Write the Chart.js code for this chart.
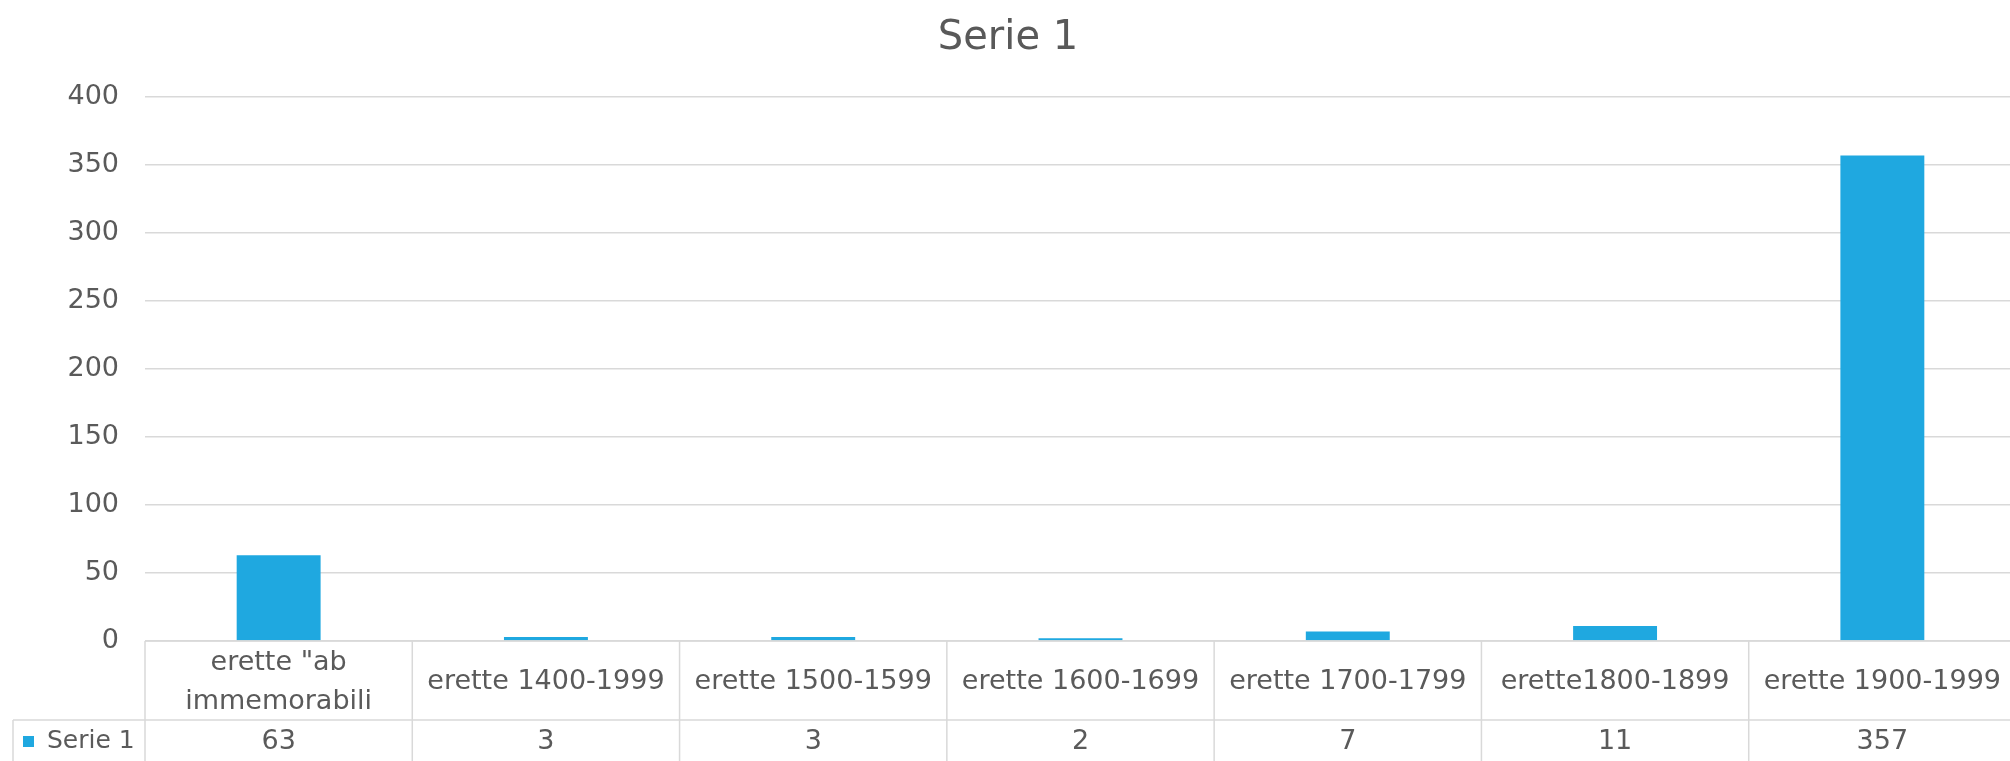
<!DOCTYPE html>
<html><head><meta charset="utf-8">
<script src="https://cdn.jsdelivr.net/npm/chart.js@4.4.1/dist/chart.umd.min.js"></script>
<style>
html,body{margin:0;padding:0;background:#fff;overflow:hidden;width:2010px;height:761px}
#wrap{position:absolute;left:0;top:0;width:2016px;height:761px}
</style></head>
<body><div id="wrap"><canvas id="c" width="2016" height="761"></canvas></div>
<script>
const chartTitle = 'Serie 1';
const seriesName = 'Serie 1';
const categories = [['erette "ab', 'immemorabili'], 'erette 1400-1999', 'erette 1500-1599', 'erette 1600-1699', 'erette 1700-1799', 'erette1800-1899', 'erette 1900-1999'];
const seriesValues = [63, 3, 3, 2, 7, 11, 357];
const yTicks = [0, 50, 100, 150, 200, 250, 300, 350, 400];

const FONT = 'DejaVu Sans, sans-serif';
const TEXT = '#5a5a5a';
const GRID = '#d9d9d9';
const BAR = '#1fa8e0';

const tablePlugin = {
  id: 'dataTable',
  afterDraw(chart) {
    const ctx = chart.ctx, xs = chart.scales.x;
    const n = categories.length;
    const top = xs.top, bottom = chart.height;
    const rowY = top + 79;
    const colW = (xs.right - xs.left) / n;
    const legendLeft = 13;
    ctx.save();
    ctx.strokeStyle = GRID;
    ctx.lineWidth = 1.5;
    ctx.beginPath();
    ctx.moveTo(xs.left, top); ctx.lineTo(xs.right, top);
    ctx.moveTo(legendLeft, rowY); ctx.lineTo(xs.right, rowY);
    for (let i = 0; i <= n; i++) {
      const bx = xs.getPixelForValue(0) - colW / 2 + i * colW;
      ctx.moveTo(bx, top); ctx.lineTo(bx, bottom);
    }
    ctx.moveTo(legendLeft, rowY); ctx.lineTo(legendLeft, bottom);
    ctx.stroke();
    // values row
    const vy = (rowY + bottom) / 2 + 1;
    ctx.fillStyle = TEXT;
    ctx.font = '27px ' + FONT;
    ctx.textAlign = 'center';
    ctx.textBaseline = 'middle';
    seriesValues.forEach((v, i) => {
      ctx.fillText(String(v), xs.getPixelForValue(i), vy);
    });
    // legend key
    ctx.fillStyle = BAR;
    ctx.fillRect(legendLeft + 10, vy - 5.5, 11, 11);
    ctx.fillStyle = TEXT;
    ctx.font = '25px ' + FONT;
    ctx.textAlign = 'left';
    ctx.fillText(seriesName, legendLeft + 34, vy);
    ctx.restore();
  }
};

new Chart(document.getElementById('c'), {
  type: 'bar',
  data: {
    labels: categories,
    datasets: [{
      label: seriesName,
      data: seriesValues,
      backgroundColor: BAR,
      borderWidth: 0,
      barPercentage: 0.314,
      categoryPercentage: 1.0
    }]
  },
  options: {
    responsive: false,
    devicePixelRatio: 1,
    animation: false,
    layout: { padding: 0, autoPadding: false },
    plugins: {
      legend: { display: false },
      tooltip: { enabled: false },
      title: {
        display: true,
        text: chartTitle,
        color: '#595959',
        font: { family: FONT, size: 40, weight: 'normal', lineHeight: 1.2 },
        padding: { top: 15, bottom: 34 }
      }
    },
    scales: {
      x: {
        offset: true,
        grid: { display: false, drawTicks: false },
        border: { display: false },
        ticks: {
          color: TEXT,
          font: { family: FONT, size: 27, lineHeight: 1.46 },
          padding: 21.5,
          crossAlign: 'center',
          maxRotation: 0, minRotation: 0, autoSkip: false
        },
        afterFit(s) { s.height = 120; s.paddingLeft = 0; s.paddingRight = 0; }
      },
      y: {
        min: 0, max: 400,
        grid: { color: GRID, lineWidth: 1.5, drawTicks: false },
        border: { display: false },
        ticks: {
          color: TEXT,
          font: { family: FONT, size: 27 },
          padding: 26
        },
        afterBuildTicks(s) { s.ticks = yTicks.map(v => ({ value: v })); },
        afterFit(s) { s.width = 145; }
      }
    }
  },
  plugins: [tablePlugin]
});
</script>
</body></html>
